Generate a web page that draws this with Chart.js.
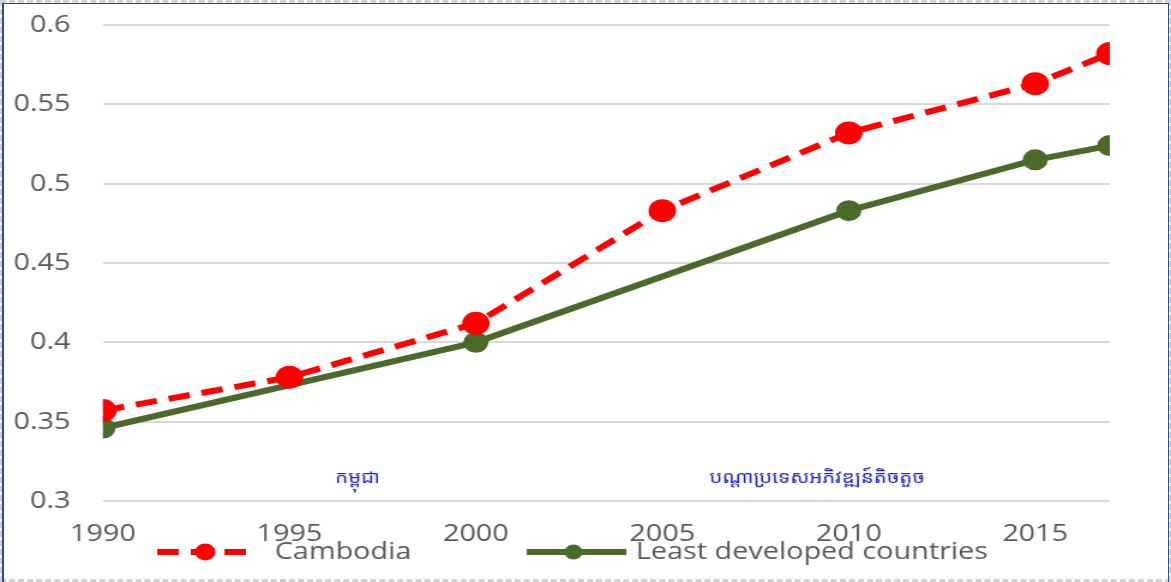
<!DOCTYPE html>
<html>
<head>
<meta charset="utf-8">
<script src="https://cdn.jsdelivr.net/npm/chart.js@4.4.0/dist/chart.umd.min.js"></script>
<style>
  html, body { margin: 0; padding: 0; background: #fff; }
  #wrap { position: relative; width: 1171px; height: 582px; overflow: hidden; }
  #chart { position: absolute; left: 0; top: 0; }
  #frame { position: absolute; left: 0; top: 0; width: 1171px; height: 582px; box-sizing: border-box;
           border: 3px dashed #d2d2d2; pointer-events: none; }
  #edge { position: absolute; left: 2px; top: 3px; width: 1167px; height: 590px; box-sizing: border-box;
          border-left: 2px solid #2f4f8a; border-top: 1px solid #2f4f8a; border-right: 1px solid #2f4f8a; pointer-events: none; }
</style>
</head>
<body>
<div id="wrap">
  <canvas id="chart" width="976" height="582" style="width:1171px;height:582px"></canvas>
  <div id="frame"></div>
  <div id="edge"></div>
</div>
<script>
// data
const years = [1990, 1995, 2000, 2005, 2010, 2015, 2017];
const cambodia = [0.357, 0.378, 0.412, 0.483, 0.532, 0.563, 0.582];
const ldcYears = [1990, 2000, 2010, 2015, 2017];
const ldc = [0.346, 0.400, 0.483, 0.515, 0.524];
const xTicks = [1990, 1995, 2000, 2005, 2010, 2015];
const seriesNames = ['Cambodia', 'Least developed countries'];
const khmerLabels = ['កម្ពុជា', 'បណ្តាប្រទេសអភិវឌ្ឍន៍តិចតួច'];

const FONT = "'Open Sans', sans-serif";
const GREY = '#595959';

// legend + khmer notes drawn by hand (canvas is stretched 1.2x horizontally by css)
const extras = {
  id: 'extras',
  afterDraw(chart) {
    const ctx = chart.ctx;
    const legendPos = [{x0: 131, x1: 212, mx: 171, tx: 229}, {x0: 439, x1: 522, mx: 478, tx: 530}];
    const ly = 552;
    chart.data.datasets.forEach((ds, i) => {
      const p = legendPos[i];
      ctx.save();
      ctx.strokeStyle = ds.borderColor;
      ctx.lineWidth = ds.borderWidth;
      ctx.setLineDash(ds.borderDash || []);
      ctx.beginPath();
      ctx.moveTo(p.x0, ly);
      ctx.lineTo(p.x1, ly);
      ctx.stroke();
      ctx.setLineDash([]);
      ctx.fillStyle = ds.pointBackgroundColor;
      ctx.beginPath();
      ctx.arc(p.mx, ly, ds.pointRadius, 0, Math.PI * 2);
      ctx.fill();
      ctx.fillStyle = GREY;
      ctx.font = '24px ' + FONT;
      ctx.textBaseline = 'middle';
      ctx.textAlign = 'left';
      ctx.fillText(ds.label, p.tx, ly);
      ctx.restore();
    });

    ctx.save();
    ctx.fillStyle = '#1f1fe6';
    ctx.font = "17px 'Noto Sans Khmer', 'Khmer OS', 'Noto Sans', sans-serif";
    ctx.textAlign = 'center';
    ctx.textBaseline = 'middle';
    ctx.fillText(khmerLabels[0], 298, 478);
    ctx.fillText(khmerLabels[1], 681, 478);
    ctx.restore();
  }
};

new Chart(document.getElementById('chart'), {
  type: 'line',
  data: {
    datasets: [
      {
        label: seriesNames[0],
        data: years.map((y, i) => ({ x: y, y: cambodia[i] })),
        borderColor: '#ff0000',
        backgroundColor: '#ff0000',
        pointBackgroundColor: '#ff0000',
        pointBorderColor: '#ff0000',
        borderWidth: 6,
        borderDash: [18, 10],
        pointRadius: 8.5,
        tension: 0
      },
      {
        label: seriesNames[1],
        data: ldcYears.map((y, i) => ({ x: y, y: ldc[i] })),
        borderColor: '#4a6a2a',
        backgroundColor: '#4a6a2a',
        pointBackgroundColor: '#4a6a2a',
        pointBorderColor: '#4a6a2a',
        borderWidth: 6,
        pointRadius: 7.5,
        tension: 0
      }
    ]
  },
  options: {
    responsive: false,
    devicePixelRatio: 1,
    animation: false,
    layout: { padding: { left: 0, right: 51, top: 25, bottom: 0 } },
    plugins: { legend: { display: false }, tooltip: { enabled: false } },
    scales: {
      x: {
        type: 'linear',
        min: 1990,
        max: 2017,
        afterBuildTicks: (s) => { s.ticks = xTicks.map(v => ({ value: v })); },
        afterFit: (s) => { s.height = 81; },
        grid: { display: false },
        border: { display: false },
        ticks: {
          color: GREY,
          font: { family: FONT, size: 24 },
          padding: 11,
          maxRotation: 0,
          callback: (v) => String(v)
        }
      },
      y: {
        min: 0.3,
        max: 0.6,
        afterFit: (s) => { s.width = 85.8; },
        grid: { color: '#d9d9d9', lineWidth: 2, drawTicks: true, tickLength: 27, tickColor: 'rgba(0,0,0,0)' },
        border: { display: false },
        ticks: {
          stepSize: 0.05,
          color: GREY,
          font: { family: FONT, size: 24 },
          padding: 0,
          callback: (v) => String(Number(v.toFixed(2)))
        }
      }
    }
  },
  plugins: [extras]
});
</script>
</body>
</html>
